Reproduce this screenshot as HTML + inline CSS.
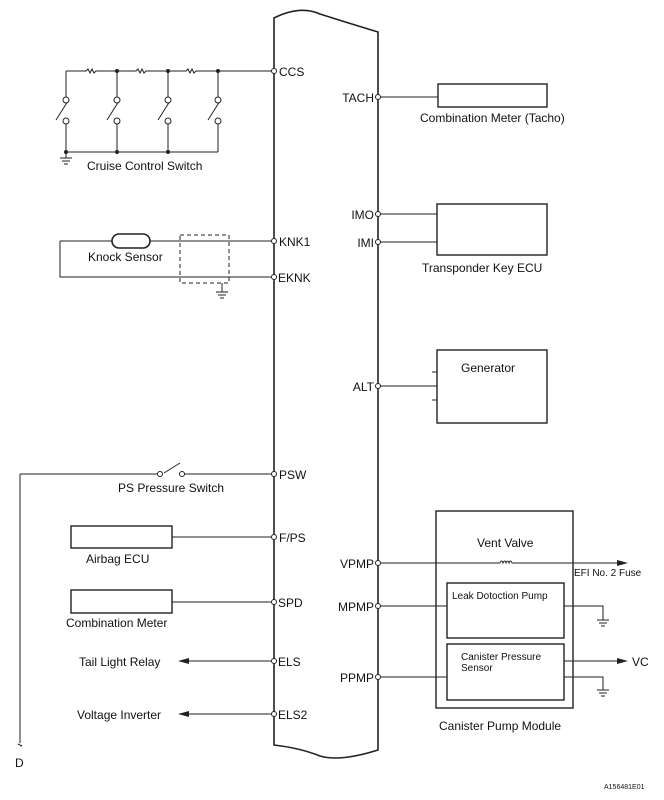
<!DOCTYPE html>
<html><head><style>body{margin:0;background:#fff}svg{display:block}text{font-family:"Liberation Sans",sans-serif;font-size:12px;fill:#111}</style></head><body>
<svg width="664" height="800" viewBox="0 0 664 800" xmlns="http://www.w3.org/2000/svg">
<g stroke="#222" fill="none" stroke-width="1">
<!-- ECU -->
<path d="M274 18 Q300 5 320 14 Q345 22 378 32 L378 750 Q340 762 320 756 Q300 748 274 745 Z" stroke-width="1.6"/>
<!-- CCS -->
<path d="M66 71 H86 l2 -2 2 4 2 -4 2 4 2 -2 H136 l2 -2 2 4 2 -4 2 4 2 -2 H186 l2 -2 2 4 2 -4 2 4 2 -2 H271"/>
<path d="M66 71 V97 M117 71 V97 M168 71 V97 M218 71 V97"/>
<path d="M66 124 V152 M117 124 V152 M168 124 V152 M218 124 V152 M66 152 H218"/>
<path d="M56 120 L68 101 M107 120 L119 101 M158 120 L170 101 M208 120 L220 101"/>
<path d="M66 152 V158 M60 158 H72 M62 161 H70 M64 164 H68"/>
<!-- knock -->
<path d="M60 241 H112 M150 241 H271 M60 241 V277 H271"/>
<rect x="112" y="234" width="38" height="14" rx="7" stroke-width="1.6"/>
<rect x="180" y="235" width="49" height="48" stroke-dasharray="4 3"/>
<path d="M222 283 V292 M216 292 H228 M218 295 H226 M220 298 H224"/>
<!-- PSW -->
<path d="M20 474 H157 M164 473 L180 463 M184 474 H271 M20 474 V743"/>
<path d="M18 745 q1 -2 2 0 q1 2 2 0"/>
<rect x="71" y="526" width="101" height="22" stroke-width="1.4"/>
<path d="M172 537 H271"/>
<rect x="71" y="590" width="101" height="23" stroke-width="1.4"/>
<path d="M172 602 H271"/>
<path d="M181 661 H271 M181 714 H271"/>
<!-- right -->
<path d="M380 97 H438 M380 214 H437 M380 242 H437 M380 386 H437 M432 372 H437 M432 400 H437"/>
<rect x="438" y="84" width="109" height="23" stroke-width="1.4"/>
<rect x="437" y="204" width="110" height="51" stroke-width="1.4"/>
<rect x="437" y="350" width="110" height="73" stroke-width="1.4"/>
<rect x="436" y="511" width="137" height="197" stroke-width="1.4"/>
<rect x="447" y="583" width="117" height="55" stroke-width="1.4"/>
<rect x="447" y="644" width="117" height="56" stroke-width="1.4"/>
<path d="M380 563 H500 M512 563 H618 M380 606 H447 M380 677 H447"/>
<path d="M500 563 q1.5 -4 3 0 q1.5 -4 3 0 q1.5 -4 3 0 q1.5 -4 3 0"/>
<path d="M564 606 H603 V620 M597 620 H609 M599 623 H607 M601 626 H605"/>
<path d="M564 661 H618 M564 677 H603 V690 M597 690 H609 M599 693 H607 M601 696 H605"/>
</g>
<g fill="#222">
<path d="M628 563 L617 560 L617 566 Z M628 661 L617 658 L617 664 Z M178 661 L189 658 L189 664 Z M178 714 L189 711 L189 717 Z"/>
<circle cx="117" cy="71" r="2"/><circle cx="168" cy="71" r="2"/><circle cx="218" cy="71" r="2"/>
<circle cx="66" cy="152" r="2"/><circle cx="117" cy="152" r="2"/><circle cx="168" cy="152" r="2"/>
</g>
<g fill="#fff" stroke="#222">
<circle cx="66" cy="100" r="3"/><circle cx="117" cy="100" r="3"/><circle cx="168" cy="100" r="3"/><circle cx="218" cy="100" r="3"/>
<circle cx="66" cy="121" r="3"/><circle cx="117" cy="121" r="3"/><circle cx="168" cy="121" r="3"/><circle cx="218" cy="121" r="3"/>
<circle cx="160" cy="474" r="2.5"/><circle cx="182" cy="474" r="2.5"/>
<circle cx="274" cy="71" r="2.5"/><circle cx="274" cy="241" r="2.5"/><circle cx="274" cy="277" r="2.5"/><circle cx="274" cy="474" r="2.5"/><circle cx="274" cy="537" r="2.5"/><circle cx="274" cy="602" r="2.5"/><circle cx="274" cy="661" r="2.5"/><circle cx="274" cy="714" r="2.5"/>
<circle cx="378" cy="97" r="2.5"/><circle cx="378" cy="214" r="2.5"/><circle cx="378" cy="242" r="2.5"/><circle cx="378" cy="386" r="2.5"/><circle cx="378" cy="563" r="2.5"/><circle cx="378" cy="606" r="2.5"/><circle cx="378" cy="677" r="2.5"/>
</g>
<text x="279" y="76">CCS</text><text x="279" y="246">KNK1</text><text x="278" y="282">EKNK</text>
<text x="279" y="479">PSW</text><text x="279" y="542">F/PS</text><text x="278" y="607">SPD</text>
<text x="278" y="666">ELS</text><text x="278" y="719">ELS2</text>
<text x="374" y="102" text-anchor="end">TACH</text><text x="374" y="219" text-anchor="end">IMO</text><text x="374" y="247" text-anchor="end">IMI</text><text x="374" y="391" text-anchor="end">ALT</text>
<text x="374" y="568" text-anchor="end">VPMP</text><text x="374" y="611" text-anchor="end">MPMP</text><text x="374" y="682" text-anchor="end">PPMP</text>
<text x="87" y="170">Cruise Control Switch</text>
<text x="88" y="261">Knock Sensor</text>
<text x="118" y="492">PS Pressure Switch</text>
<text x="86" y="563">Airbag ECU</text>
<text x="66" y="627">Combination Meter</text>
<text x="79" y="666">Tail Light Relay</text>
<text x="77" y="719">Voltage Inverter</text>
<text x="15" y="767">D</text>
<text x="420" y="122">Combination Meter (Tacho)</text>
<text x="422" y="272">Transponder Key ECU</text>
<text x="461" y="372">Generator</text>
<text x="477" y="547">Vent Valve</text>
<text x="574" y="576" style="font-size:10px">EFI No. 2 Fuse</text>
<text x="452" y="599" style="font-size:10px">Leak Dotoction Pump</text>
<text x="461" y="660" style="font-size:10px">Canister Pressure</text>
<text x="461" y="671" style="font-size:10px">Sensor</text>
<text x="632" y="666">VC</text>
<text x="439" y="730">Canister Pump Module</text>
<text x="604" y="789" style="font-size:7px">A156481E01</text>
</svg>
</body></html>
